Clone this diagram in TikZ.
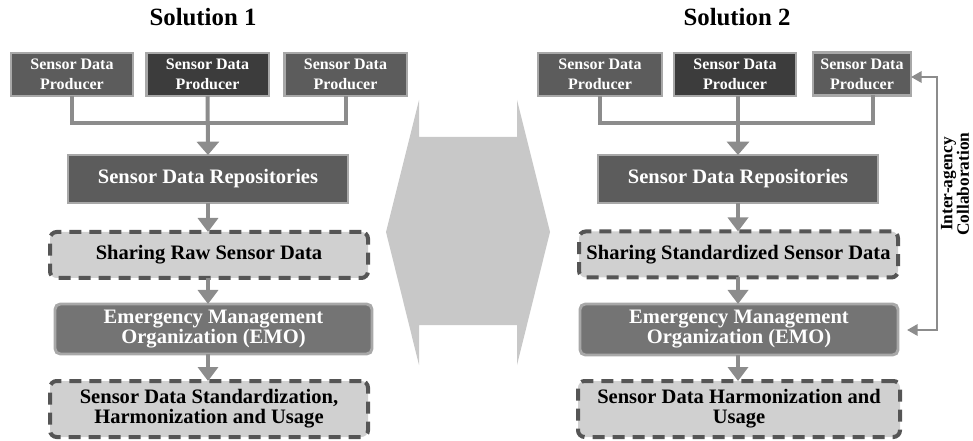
\documentclass[tikz,border=0pt]{standalone}
\usepackage{fontspec}
\setmainfont{Liberation Serif}
\usetikzlibrary{arrows.meta}
\definecolor{prodfill}{HTML}{5C5C5C}
\definecolor{proddark}{HTML}{3C3C3C}
\definecolor{boxedge}{HTML}{A8A8A8}
\definecolor{emofill}{HTML}{747474}
\definecolor{lightfill}{HTML}{D0D0D0}
\definecolor{dashedge}{HTML}{555555}
\definecolor{flow}{HTML}{8C8C8C}
\definecolor{exchangegray}{HTML}{C8C8C8}
\tikzset{
  every node/.style={inner sep=0pt, outer sep=0pt, align=center, font=\bfseries},
  prodbox/.style={draw=boxedge, line width=2pt, fill=prodfill, text=white,
    minimum height=32.25pt, font=\fontsize{12}{15}\selectfont\bfseries},
  repobox/.style={draw=boxedge, line width=2pt, fill=prodfill, text=white,
    minimum width=210pt, minimum height=36pt, font=\fontsize{15.4}{15}\selectfont\bfseries},
  emobox/.style={draw=boxedge, line width=2.2pt, fill=emofill, text=white, rounded corners=4pt,
    minimum height=37.5pt, font=\fontsize{15.4}{15}\selectfont\bfseries},
  sharebox/.style={draw=dashedge, line width=3pt, fill=lightfill, text=black, rounded corners=5pt,
    dash pattern=on 9pt off 6pt, minimum height=34.5pt, font=\fontsize{15.4}{15}\selectfont\bfseries},
  flowline/.style={draw=flow, line width=3pt},
  flowarrow/.style={flowline, -{Triangle[width=15pt,length=10.5pt]}},
  mergearrow/.style={flowline, -{Triangle[width=16.5pt,length=10pt]}},
  collab/.style={draw=flow, line width=1.8pt, {Triangle[width=8.5pt,length=8pt]}-{Triangle[width=8.5pt,length=8pt]}},
  heading/.style={font=\fontsize{18.6}{20}\selectfont\bfseries},
}
\begin{document}
\begin{tikzpicture}[x=0.75pt, y=-0.75pt]
\useasboundingbox (0,0) rectangle (973,441);

% headings
\node[heading] (t1) at (203,17) {Solution 1};
\node[heading] (t2) at (737,17) {Solution 2};

% exchange arrow between the two solutions
\fill[exchangegray] (386,232) -- (419,100) -- (419,137) -- (517,137) -- (517,100)
  -- (550,232) -- (517,365) -- (517,325) -- (419,325) -- (419,365) -- cycle;

% ---------- Solution 1 ----------
\node[prodbox, minimum width=91.5pt, fill=prodfill] (lp1) at (72,74.5) {Sensor Data\\Producer};
\node[prodbox, minimum width=92pt, fill=proddark] (lp2) at (207.5,74.5) {Sensor Data\\Producer};
\node[prodbox, minimum width=92pt] (lp3) at (345.5,74.5) {Sensor Data\\Producer};
\node[repobox] (lrepo) at (208,179) {Sensor Data Repositories};
\node[sharebox, minimum width=238.5pt] (lshare) at (209,255) {Sharing Raw Sensor Data};
\node[emobox, minimum width=237.75pt] (lemo) at (213.5,329) {Emergency Management\\Organization (EMO)};
\node[sharebox, minimum width=238.5pt, minimum height=42pt] (lfinal) at (209,409)
  {Sensor Data Standardization,\\Harmonization and Usage};

\coordinate (lj) at (208,123);
\draw[flowline] (lp1.south) |- (lj) -| (lp3.south);
\draw[mergearrow] (lp2.south) -- (lrepo.north);
\draw[flowarrow] (lrepo.south -| lj) -- (lshare.north -| lj);
\draw[flowarrow] (lshare.south -| lj) -- (lemo.north -| lj);
\draw[flowarrow] (lemo.south -| lj) -- (lfinal.north -| lj);

% ---------- Solution 2 ----------
\node[prodbox, minimum width=93pt] (rp1) at (600,74.5) {Sensor Data\\Producer};
\node[prodbox, minimum width=91.5pt, fill=proddark] (rp2) at (735,74.5) {Sensor Data\\Producer};
\node[prodbox, minimum width=73.5pt] (rp3) at (862,74) {Sensor Data\\Producer};
\node[repobox] (rrepo) at (738,179) {Sensor Data Repositories};
\node[sharebox, minimum width=239.25pt] (rshare) at (738.5,254.5) {Sharing Standardized Sensor Data};
\node[emobox, minimum width=238.5pt, minimum height=38.25pt] (remo) at (739,329.5)
  {Emergency Management\\Organization (EMO)};
\node[sharebox, minimum width=241.5pt, minimum height=42pt] (rfinal) at (739,409)
  {Sensor Data Harmonization and\\Usage};

\coordinate (rj) at (738,123);
\draw[flowline] (rp1.south) |- (rj) -| ([xshift=8.25pt]rp3.south);
\draw[mergearrow] (rp2.south -| rj) -- (rrepo.north -| rj);
\draw[flowarrow] (rrepo.south -| rj) -- (rshare.north -| rj);
\draw[flowarrow] (rshare.south -| rj) -- (remo.north -| rj);
\draw[flowarrow] (remo.south -| rj) -- (rfinal.north -| rj);

% inter-agency loop on the right
\coordinate (ctop) at (937,77);
\coordinate (cbot) at (937,330);
\draw[collab] ([xshift=6.75pt]remo.east |- cbot) -- (cbot) -- (ctop) -- (rp3.east |- ctop);
\node[rotate=90, font=\fontsize{13}{12.5}\selectfont\bfseries] (clabel) at (955,184)
  {Inter-agency\\Collaboration};
\end{tikzpicture}
\end{document}
